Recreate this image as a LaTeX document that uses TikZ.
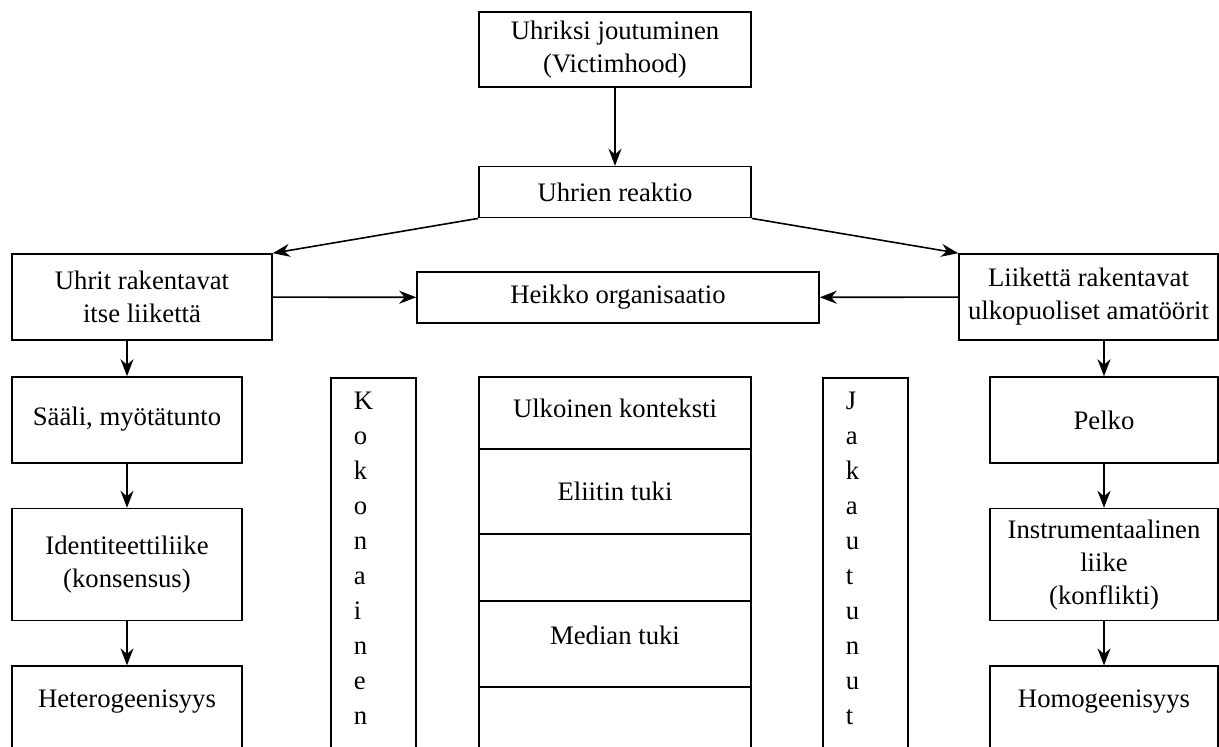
\documentclass[tikz,border=0pt]{standalone}
\usepackage{fontspec}
\setmainfont{Liberation Serif}
\usetikzlibrary{arrows.meta,positioning}

\begin{document}
\begin{tikzpicture}[
  x=1pt, y=-1pt,
  box/.style={draw, line width=1.6pt, inner sep=0pt, align=center,
              font=\fontsize{26.7}{33}\selectfont},
  stack/.style={box, minimum width=272pt, outer sep=0pt},
  letters/.style={box, align=left, text width=39pt, inner xsep=23pt,
                  inner ysep=0pt, text height=32pt, text depth=400pt,
                  font=\fontsize{26.7}{35}\selectfont},
  opened/.style={text height=41pt, text depth=300pt},
  arr/.style={-{Stealth[length=17pt, width=13pt]}, line width=1.6pt},
]
  \useasboundingbox (0,0) rectangle (1219,747);
  \clip (0,0) rectangle (1219,747);

  % top
  \node[box, minimum width=272pt, minimum height=75pt] (vict) at (615,49.5)
    {Uhriksi joutuminen\\(Victimhood)};
  \node[box, minimum width=272pt, minimum height=51pt, below=78pt of vict] (reak)
    {Uhrien reaktio};

  \node[box, minimum width=260pt, minimum height=86pt] (uhrit) at (142,297)
    {Uhrit rakentavat\\itse liikettä};
  \node[box, minimum width=402pt, minimum height=51pt] (heikko) at (618,297.5)
    {Heikko organisaatio};
  \node[box, minimum width=259pt, minimum height=86pt] (liike) at (1088.5,297)
    {Liikettä rakentavat\\ulkopuoliset amatöörit};

  % left column
  \node[box, minimum width=230pt, minimum height=86pt, text depth=8pt] (saali)
    at (127,420) {Sääli, myötätunto};
  \node[box, minimum width=230pt, minimum height=112pt, below=44pt of saali] (ident)
    {Identiteettiliike\\(konsensus)};
  \node[box, opened, minimum width=230pt, below=44pt of ident] (hetero)
    {Heterogeenisyys};

  % right column
  \node[box, minimum width=228pt, minimum height=86pt] (pelko) at (1104,420)
    {Pelko};
  \node[box, minimum width=228pt, minimum height=112pt, below=44pt of pelko] (instr)
    {Instrumentaalinen\\liike\\(konflikti)};
  \node[box, opened, minimum width=228pt, below=44pt of instr] (homo)
    {Homogeenisyys};

  % vertical words
  \node[letters, anchor=north west] (koko) at (330,377)
    {K\\o\\k\\o\\n\\a\\i\\n\\e\\n};
  \node[letters, anchor=north west] (jaka) at (822,377)
    {J\\a\\k\\a\\u\\t\\u\\n\\u\\t};

  % middle stack
  \node[stack, minimum height=72pt, anchor=north, text depth=10pt] (ulk) at (615,377)
    {Ulkoinen konteksti};
  \node[stack, minimum height=85pt, below=0pt of ulk] (eliit) {Eliitin tuki};
  \node[stack, minimum height=67pt, below=0pt of eliit] (tyhja) {};
  \node[stack, minimum height=86pt, below=0pt of tyhja, text height=18pt,
        text depth=18pt] (median) {Median tuki};
  \node[stack, minimum height=200pt, below=0pt of median] (alin) {};

  \draw[arr] (vict) -- (reak);
  \draw[arr] (reak.south west) -- (uhrit.north east);
  \draw[arr] (reak.south east) -- (liike.north west);
  \draw[arr] (uhrit) -- (heikko);
  \draw[arr] (liike) -- (heikko);
  \draw[arr] (uhrit.south -| saali) -- (saali);
  \draw[arr] (saali) -- (ident);
  \draw[arr] (ident) -- (hetero);
  \draw[arr] (liike.south -| pelko) -- (pelko);
  \draw[arr] (pelko) -- (instr);
  \draw[arr] (instr) -- (homo);
\end{tikzpicture}
\end{document}
